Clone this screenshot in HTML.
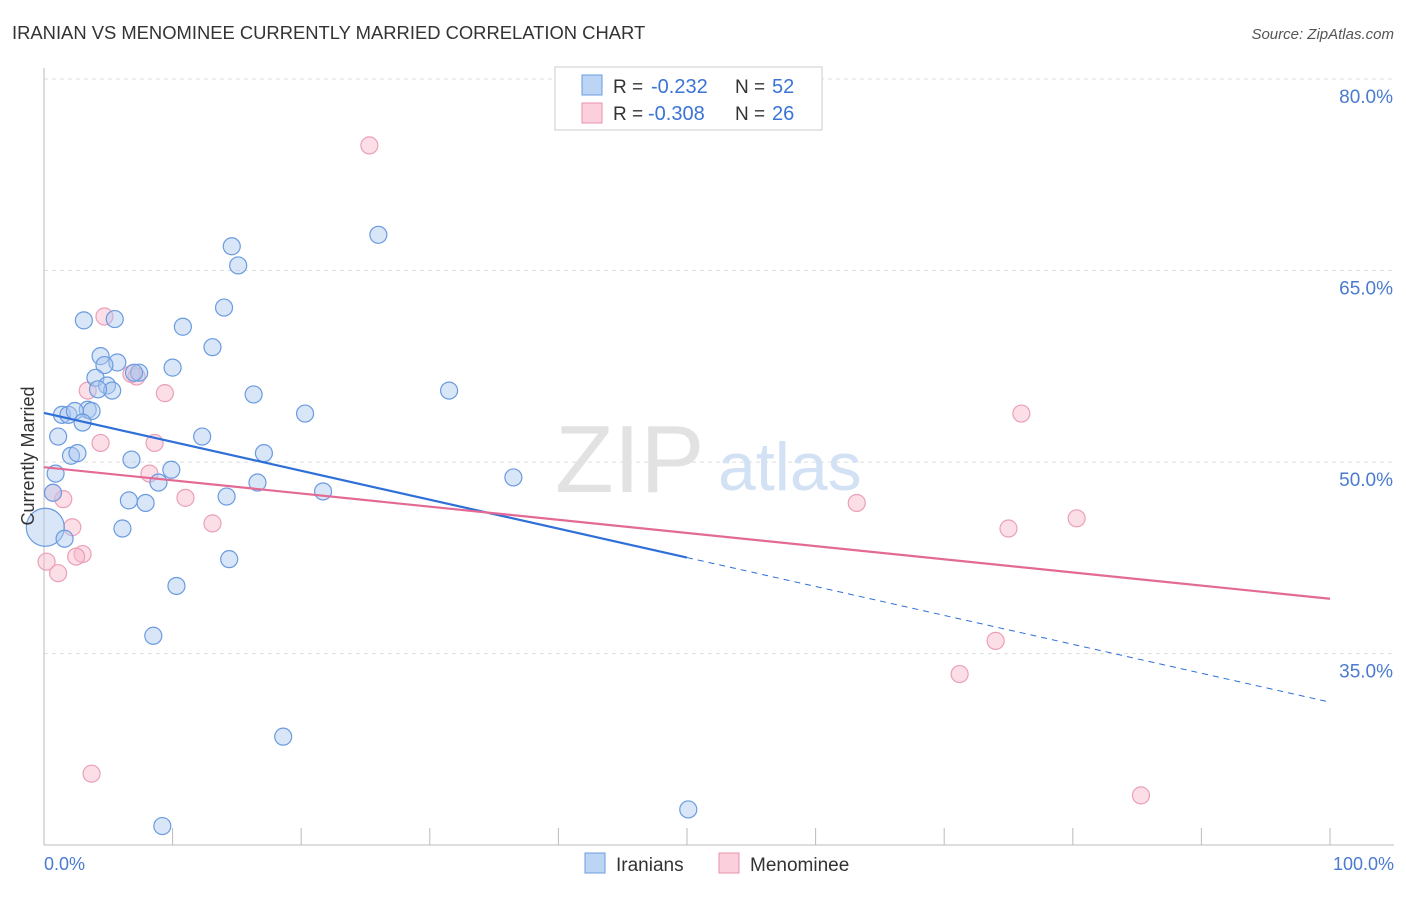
<!DOCTYPE html>
<html><head><meta charset="utf-8"><style>
body{margin:0;background:#fff;font-family:"Liberation Sans",sans-serif;}
svg text{font-family:"Liberation Sans",sans-serif;}
</style></head><body>
<svg id="chart" width="1406" height="892" xmlns="http://www.w3.org/2000/svg">
<text x="12" y="39" font-size="18.4" fill="#333">IRANIAN VS MENOMINEE CURRENTLY MARRIED CORRELATION CHART</text>
<text x="1394" y="39" font-size="15" fill="#555" font-style="italic" text-anchor="end">Source: ZipAtlas.com</text>
<g id="grid"></g>
<g id="axes"></g>
<text x="555" y="492" font-size="96" fill="#e2e2e2" font-family="Liberation Serif">ZIP</text>
<text x="718" y="490" font-size="68" fill="#d3e1f5">atlas</text>
<g id="pts"></g>
<g id="lines"></g>
<text transform="translate(34,456) rotate(-90)" font-size="18" fill="#333" text-anchor="middle">Currently Married</text>
<text x="44" y="870" font-size="18" fill="#4a7bd0">0.0%</text>
<text x="1394" y="870" font-size="18" fill="#4a7bd0" text-anchor="end">100.0%</text>
<g>
<rect x="555" y="67" width="267" height="63" fill="#fff" stroke="#ccc"/>
<rect x="582" y="75" width="20" height="20" fill="#bcd5f5" stroke="#6a9be0"/>
<rect x="582" y="103" width="20" height="20" fill="#fbd0dc" stroke="#e890aa"/>
<text x="613" y="93" font-size="19" fill="#333">R =</text>
<text x="651" y="93" font-size="20" fill="#3b73d6">-0.232</text>
<text x="735" y="93" font-size="19" fill="#333">N =</text>
<text x="772" y="93" font-size="20" fill="#3b73d6">52</text>
<text x="613" y="120" font-size="19" fill="#333">R =</text>
<text x="648" y="120" font-size="20" fill="#3b73d6">-0.308</text>
<text x="735" y="120" font-size="19" fill="#333">N =</text>
<text x="772" y="120" font-size="20" fill="#3b73d6">26</text>
</g>
<g>
<rect x="585" y="853" width="20" height="20" fill="#bcd5f5" stroke="#6a9be0"/>
<text x="616" y="871" font-size="19" fill="#333">Iranians</text>
<rect x="719" y="853" width="20" height="20" fill="#fbd0dc" stroke="#e890aa"/>
<text x="750" y="871" font-size="19" fill="#333">Menominee</text>
</g>
</svg>
<script>
const yTicks=[80,65,50,35];
const yTickLabels=["80.0%","65.0%","50.0%","35.0%"];
const xTicks=[0,10,20,30,40,50,60,70,80,90,100];
const blueX=[3.1,5.5,10.8,14.6,15.1,14.0,13.1,4.4,5.7,4.7,10.0,7.4,7.0,4.0,4.9,5.3,4.2,16.3,31.5,26.0,3.4,3.7,1.4,1.9,2.4,3.0,1.1,20.3,12.3,2.1,2.6,6.8,17.1,0.9,9.9,8.9,16.6,0.7,21.7,6.6,7.9,14.2,36.5,6.1,0.1,1.6,14.4,10.3,8.5,18.6,9.2,50.1];
const blueY=[61.1,61.2,60.6,66.9,65.4,62.1,59.0,58.3,57.8,57.6,57.4,57.0,57.0,56.6,56.0,55.6,55.7,55.3,55.6,67.8,54.1,54.0,53.7,53.7,54.0,53.1,52.0,53.8,52.0,50.5,50.7,50.2,50.7,49.1,49.4,48.4,48.4,47.6,47.7,47.0,46.8,47.3,48.8,44.8,44.9,44.0,42.4,40.3,36.4,28.5,21.5,22.8];
const pinkX=[25.3,4.7,7.2,6.8,9.4,3.4,8.6,4.4,8.2,11.0,1.5,0.7,13.1,2.2,3.0,2.5,0.2,1.1,3.7,63.2,76.0,75.0,80.3,74.0,71.2,85.3];
const pinkY=[74.8,61.4,56.7,56.9,55.4,55.6,51.5,51.5,49.1,47.2,47.1,47.6,45.2,44.9,42.8,42.6,42.2,41.3,25.6,46.8,53.8,44.8,45.6,36.0,33.4,23.9];
const blueTrend=[53.85,31.2];
const pinkTrend=[49.6,39.3];
const NS="http://www.w3.org/2000/svg";
const sx=v=>44+v*12.86;
const sy=v=>79+(80-v)*12.77;
function mk(t,a,p){const e=document.createElementNS(NS,t);for(const k in a)e.setAttribute(k,a[k]);p.appendChild(e);return e;}
const grid=document.getElementById('grid'),axes=document.getElementById('axes'),pts=document.getElementById('pts'),lines=document.getElementById('lines');
yTicks.forEach((v,i)=>{
 const l=mk('line',{x1:44,x2:1394,y1:sy(v),y2:sy(v),stroke:'#ddd','stroke-dasharray':'4,4'},grid);
 
 
 const t=mk('text',{x:1393,y:sy(v)+24,'font-size':19,fill:'#4a7bd0','text-anchor':'end'},grid);
 t.textContent=yTickLabels[i];
 
 
});
mk('line',{x1:44,x2:44,y1:68,y2:845,stroke:'#bbb'},axes);
mk('line',{x1:44,x2:1394,y1:845,y2:845,stroke:'#bbb'},axes);
xTicks.forEach(v=>{
 const l=mk('line',{x1:sx(v),x2:sx(v),y1:828,y2:845,stroke:'#bbb'},axes);
 
 
});
pinkX.forEach((x,i)=>{
 const c=mk('circle',{cx:sx(x),cy:sy(pinkY[i]),r:8.5,fill:'rgba(248,182,202,0.45)',stroke:'#eaa0b8','stroke-width':1.2},pts);
 
 
});
blueX.forEach((x,i)=>{
 const c=mk('circle',{cx:sx(x),cy:sy(blueY[i]),r:(i==44?19:8.5),fill:'rgba(170,200,240,0.45)',stroke:'#6a9be0','stroke-width':1.2},pts);
 
 
});
const bAt=x=>blueTrend[0]+(blueTrend[1]-blueTrend[0])*x/100;
let l1=mk('line',{x1:sx(0),y1:sy(bAt(0)),x2:sx(50),y2:sy(bAt(50)),stroke:'#2f6fd8','stroke-width':2.2},lines);


let l2=mk('line',{x1:sx(50),y1:sy(bAt(50)),x2:sx(100),y2:sy(bAt(100)),stroke:'#2f6fd8','stroke-width':1,'stroke-dasharray':'6,5'},lines);


let l3=mk('line',{x1:sx(0),y1:sy(pinkTrend[0]),x2:sx(100),y2:sy(pinkTrend[1]),stroke:'#e36a95','stroke-width':2.2},lines);


</script>
</body></html>
